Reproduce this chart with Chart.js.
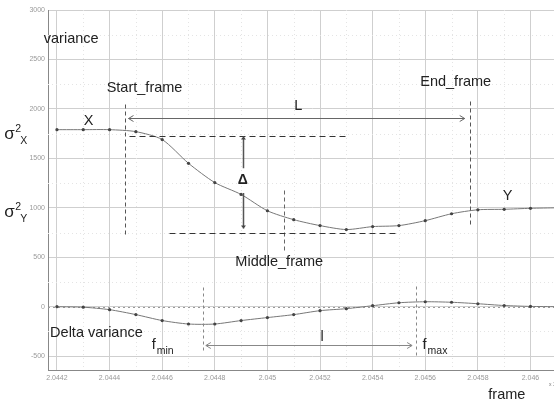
<!DOCTYPE html>
<html>
<head>
<meta charset="utf-8">
<script src="https://cdn.jsdelivr.net/npm/chart.js@4/dist/chart.umd.min.js"></script>
<style>
  html, body { margin: 0; padding: 0; background: #fff; overflow: hidden; }
  #wrap { width: 580px; height: 404px; }
</style>
</head>
<body>
<div id="wrap"><canvas id="chart" width="580" height="404"></canvas></div>
<script>
// Frame numbers (axis shows them / 10^4)
const frames = [20442, 20443, 20444, 20445, 20446, 20447, 20448, 20449, 20450, 20451,
                20452, 20453, 20454, 20455, 20456, 20457, 20458, 20459, 20460, 20461];

// Variance curve
const variance = [1790, 1790, 1790, 1770, 1690, 1450, 1255, 1135, 970, 880,
                  820, 780, 810, 820, 870, 940, 980, 985, 995, 1000];

// Delta variance curve
const deltaVariance = [0, -5, -30, -80, -140, -175, -175, -140, -110, -80,
                       -40, -20, 10, 40, 50, 45, 30, 12, 3, 0];

// Axis ticks
const xTicks = [20442, 20444, 20446, 20448, 20450, 20452, 20454, 20456, 20458, 20460];
const yTicks = [-500, 0, 500, 1000, 1500, 2000, 2500, 3000];
const xMinor = [20443, 20445, 20447, 20449, 20451, 20453, 20455, 20457, 20459, 20461];
const yMinor = [-250, 250, 750, 1250, 1750, 2250, 2750];

const xMin = 20441.66, xMax = 20461.73;
const yMin = -640, yMax = 3000;

// Annotation lines in data units: [x1, y1, x2, y2]
const dashedLines = [
  { pts: [20444.6, 2050, 20444.6, 700], dash: [4, 3], color: '#555' },      // Start_frame
  { pts: [20457.7, 2075, 20457.7, 810], dash: [4, 3], color: '#555' },      // End_frame
  { pts: [20450.64, 1184, 20450.64, 577], dash: [4, 3], color: '#666' },    // Middle_frame
  { pts: [20444.75, 1730, 20452.94, 1730], dash: [6, 4], color: '#333' },   // upper level
  { pts: [20446.26, 749, 20454.94, 749], dash: [6, 4], color: '#333' },     // lower level
  { pts: [20447.55, 202, 20447.55, -435], dash: [3, 3], color: '#888' },    // f_min
  { pts: [20455.66, 210, 20455.66, -485], dash: [3, 3], color: '#888' }     // f_max
];
const arrows = [
  { pts: [20444.72, 1903, 20457.5, 1903], color: '#666' },   // L
  { pts: [20447.66, -385, 20455.5, -385], color: '#888' }    // l
];

// Text labels in data units
const texts = [
  { t: 'variance', x: 20441.5, y: 2702, align: 'left' },
  { t: 'Start_frame', x: 20443.89, y: 2216, align: 'left' },
  { t: 'End_frame', x: 20455.81, y: 2277, align: 'left' },
  { t: 'L', x: 20451.17, y: 2034, align: 'center' },
  { t: 'X', x: 20443.2, y: 1882, align: 'center' },
  { t: 'Y', x: 20459.13, y: 1123, align: 'center' },
  { t: 'Middle_frame', x: 20450.45, y: 455, align: 'center' },
  { t: 'Delta variance', x: 20441.74, y: -263, align: 'left' },
  { t: 'l', x: 20452.08, y: -304, align: 'center' },
  { t: 'frame', x: 20459.1, y: -895, align: 'center' }
];
const subLabels = [
  { base: 'f', sub: 'min', x: 20445.6, y: -385 },
  { base: 'f', sub: 'max', x: 20455.9, y: -385 }
];
const sigmaLabels = [
  { sub: 'X', x: 20440.0, y: 1740 },
  { sub: 'Y', x: 20440.0, y: 950 }
];

const FONT = '"Liberation Sans", Arial, sans-serif';

function arrowHead(ctx, x, y, dir, size) {
  ctx.beginPath();
  ctx.moveTo(x - dir * size, y - size * 0.6);
  ctx.lineTo(x, y);
  ctx.lineTo(x - dir * size, y + size * 0.6);
  ctx.stroke();
}

const gridPlugin = {
  id: 'minorGrid',
  beforeDatasetsDraw(chart) {
    const { ctx, chartArea: a, scales: { x, y } } = chart;
    ctx.save();
    ctx.lineWidth = 1;
    ctx.strokeStyle = '#e4e4e4';
    ctx.setLineDash([1, 3]);
    xMinor.forEach(v => {
      const p = Math.round(x.getPixelForValue(v)) + 0.5;
      ctx.beginPath(); ctx.moveTo(p, a.top); ctx.lineTo(p, a.bottom); ctx.stroke();
    });
    yMinor.forEach(v => {
      const p = Math.round(y.getPixelForValue(v)) + 0.5;
      ctx.beginPath(); ctx.moveTo(a.left, p); ctx.lineTo(a.right, p); ctx.stroke();
    });
    // zero reference line
    ctx.strokeStyle = '#999';
    ctx.setLineDash([2, 3]);
    const z = Math.round(y.getPixelForValue(0)) + 0.5;
    ctx.beginPath(); ctx.moveTo(a.left, z); ctx.lineTo(a.right, z); ctx.stroke();
    ctx.restore();
  }
};

const annoPlugin = {
  id: 'annos',
  afterDatasetsDraw(chart) {
    const { ctx, scales: { x, y } } = chart;
    const px = v => x.getPixelForValue(v);
    const py = v => y.getPixelForValue(v);
    ctx.save();
    ctx.lineWidth = 1;

    dashedLines.forEach(d => {
      ctx.strokeStyle = d.color;
      ctx.setLineDash(d.dash);
      ctx.beginPath();
      ctx.moveTo(Math.round(px(d.pts[0])) + 0.5, Math.round(py(d.pts[1])) + 0.5);
      ctx.lineTo(Math.round(px(d.pts[2])) + 0.5, Math.round(py(d.pts[3])) + 0.5);
      ctx.stroke();
    });
    ctx.setLineDash([]);

    arrows.forEach(d => {
      const x1 = px(d.pts[0]), x2 = px(d.pts[2]), yy = Math.round(py(d.pts[1])) + 0.5;
      ctx.strokeStyle = d.color;
      ctx.lineWidth = 1.2;
      ctx.beginPath(); ctx.moveTo(x1, yy); ctx.lineTo(x2, yy); ctx.stroke();
      ctx.lineWidth = 1;
      arrowHead(ctx, x1, yy, -1, 5);
      arrowHead(ctx, x2, yy, 1, 5);
    });

    // Delta bar
    const dx = Math.round(px(20449.06)) + 0.5;
    ctx.strokeStyle = '#555';
    ctx.fillStyle = '#444';
    ctx.lineWidth = 1.5;
    ctx.beginPath();
    ctx.moveTo(dx, py(1720)); ctx.lineTo(dx, py(1400));
    ctx.moveTo(dx, py(1150)); ctx.lineTo(dx, py(790));
    ctx.stroke();
    [[1720, -1], [790, 1]].forEach(([v, s]) => {
      const yy = py(v);
      ctx.beginPath();
      ctx.moveTo(dx - 2.5, yy - s * 3); ctx.lineTo(dx + 2.5, yy - s * 3); ctx.lineTo(dx, yy);
      ctx.closePath(); ctx.fill();
    });

    ctx.fillStyle = '#222';
    ctx.textBaseline = 'middle';
    ctx.font = '14.5px ' + FONT;
    texts.forEach(t => {
      ctx.textAlign = t.align;
      ctx.fillText(t.t, px(t.x), py(t.y));
    });
    ctx.textAlign = 'center';
    ctx.font = 'bold 14px ' + FONT;
    ctx.fillText('\u0394', px(20449.06), py(1275));

    ctx.textAlign = 'left';
    subLabels.forEach(s => {
      const bx = px(s.x), by = py(s.y);
      ctx.font = '14.5px ' + FONT;
      ctx.fillText(s.base, bx, by);
      ctx.font = '10.5px ' + FONT;
      ctx.fillText(s.sub, bx + 5, by + 6);
    });

    sigmaLabels.forEach(s => {
      const bx = px(s.x), by = py(s.y);
      ctx.font = '17px ' + FONT;
      ctx.fillText('\u03c3', bx, by);
      ctx.font = '10.5px ' + FONT;
      ctx.fillText('2', bx + 11, by - 6);
      ctx.fillText(s.sub, bx + 16, by + 6);
    });

    ctx.font = '5px ' + FONT;
    ctx.fillStyle = '#777';
    ctx.fillText('x 10', px(20460.7), py(-790));
    ctx.restore();
  }
};

const lineStyle = {
  borderColor: '#777',
  borderWidth: 1,
  pointRadius: 1.6,
  pointBackgroundColor: '#444',
  pointBorderWidth: 0,
  tension: 0.25,
  fill: false
};

new Chart(document.getElementById('chart'), {
  type: 'line',
  data: {
    datasets: [
      Object.assign({ label: 'variance', data: frames.map((f, i) => ({ x: f, y: variance[i] })) }, lineStyle),
      Object.assign({ label: 'Delta variance', data: frames.map((f, i) => ({ x: f, y: deltaVariance[i] })) }, lineStyle)
    ]
  },
  options: {
    responsive: false,
    animation: false,
    layout: { padding: { top: 10, left: 0, right: 0, bottom: 0 } },
    plugins: { legend: { display: false }, tooltip: { enabled: false } },
    scales: {
      x: {
        type: 'linear',
        min: xMin,
        max: xMax,
        afterBuildTicks: s => { s.ticks = xTicks.map(v => ({ value: v })); },
        afterFit: s => { s.height = 34; },
        grid: { color: '#cfcfcf', lineWidth: 1, drawTicks: false },
        border: { color: '#888', width: 1 },
        ticks: {
          padding: 4,
          maxRotation: 0,
          autoSkip: false,
          color: '#999',
          font: { size: 7, family: FONT },
          callback: v => String(+(v / 10000).toFixed(4))
        }
      },
      y: {
        type: 'linear',
        min: yMin,
        max: yMax,
        afterBuildTicks: s => { s.ticks = yTicks.map(v => ({ value: v })); },
        afterFit: s => { s.width = 48; },
        grid: { color: '#cfcfcf', lineWidth: 1, drawTicks: false },
        border: { color: '#888', width: 1 },
        ticks: {
          padding: 3,
          color: '#999',
          font: { size: 7, family: FONT },
          callback: v => String(v)
        }
      }
    }
  },
  plugins: [gridPlugin, annoPlugin]
});
</script>
</body>
</html>
